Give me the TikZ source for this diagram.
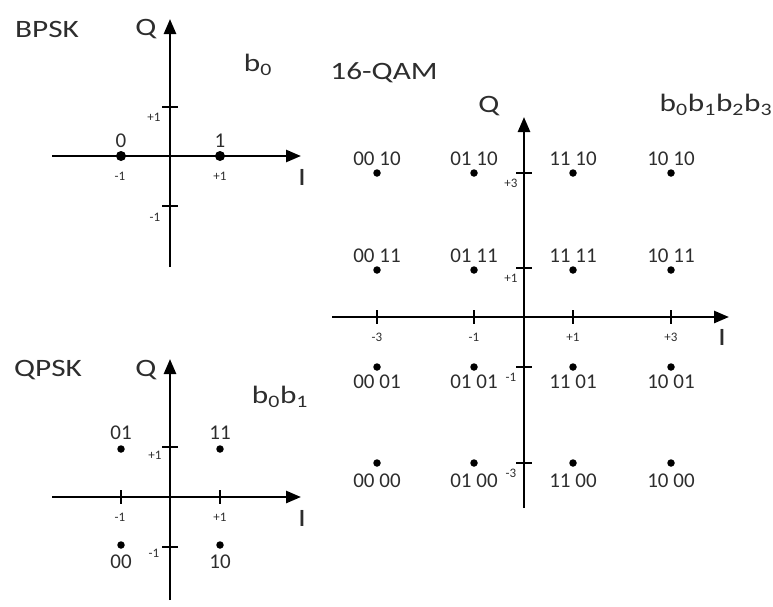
\documentclass[tikz,border=0pt]{standalone}
\usepackage{fontspec}
\setmainfont{Carlito}
\usepackage{tikz}
\usetikzlibrary{arrows.meta,positioning}
\definecolor{txtgray}{RGB}{45,45,45}
\newcommand{\wtxt}[1]{\scalebox{1.25}[1]{#1}}

\begin{document}
\begin{tikzpicture}[x=1pt, y=-1pt,
  axis/.style={line width=2.6pt, -{Triangle[length=15pt,width=12pt]}},
  tickmark/.style={line width=1.3pt},
  sympoint/.style={circle, fill=black, inner sep=0pt, minimum size=#1},
  sympoint/.default=7.5pt,
  ttl/.style={font=\fontsize{25}{29}\selectfont, text=txtgray, inner sep=0pt},
  bits/.style={font=\fontsize{21}{24}\selectfont, text=txtgray, inner sep=0pt},
  num/.style={font=\fontsize{13}{14}\selectfont, text=txtgray, inner sep=0pt}
]
\useasboundingbox (0,0) rectangle (773,606);

% BPSK
\node[ttl] (bpsk) at (47,29) {\wtxt{BPSK}};
\coordinate (bW) at (52,156);
\coordinate (bE) at (301,156);
\coordinate (bS) at (170,267);
\coordinate (bN) at (170,19);
\draw[axis] (bW) -- (bE);
\draw[axis] (bS) -- (bN);
\node[ttl] (bQ) at (146,29) {\wtxt{Q}};
\node[ttl] (bI) at (302,177) {\wtxt{I}};
\node[ttl] (bbits) at (258,65) {\wtxt{b\textsubscript{0}}};
\draw[tickmark] (162,107) -- (178,107);
\draw[tickmark] (162,206) -- (178,206);
\node[num] (bq1) at (154,117) {+1};
\node[num] (bqm1) at (155,217) {-1};
\node[sympoint=10pt] (b0) at (121,156) {};
\node[sympoint=10pt] (b1) at (220,156) {};
\node[bits] (lb0) at (121,141) {0};
\node[bits] (lb1) at (220,141) {1};
\node[num] (bim1) at (120,176) {-1};
\node[num] (bi1) at (220,176) {+1};

% QPSK
\node[ttl] (qpsk) at (48,370) {\wtxt{QPSK}};
\coordinate (pW) at (52,497);
\coordinate (pE) at (301,497);
\coordinate (pS) at (170,600);
\coordinate (pN) at (170,359);
\draw[axis] (pW) -- (pE);
\draw[axis] (pS) -- (pN);
\node[ttl] (pQ) at (146,370) {\wtxt{Q}};
\node[ttl] (pI) at (302,518) {\wtxt{I}};
\node[ttl] (pbits) at (280,397) {\wtxt{b\textsubscript{0}b\textsubscript{1}}};
\draw[tickmark] (162,447) -- (178,447);
\draw[tickmark] (162,547) -- (178,547);
\draw[tickmark] (121,490) -- (121,504);
\draw[tickmark] (220,490) -- (220,504);
\node[num] (pq1) at (155,455) {+1};
\node[num] (pqm1) at (154,553) {-1};
\node[num] (pim1) at (120,517) {-1};
\node[num] (pi1) at (220,517) {+1};
\foreach \nm/\xx/\yy/\ly in {01/121/449/433, 11/220/449/433, 00/121/545/562, 10/220/545/562}{
  \node[sympoint] (p\nm) at (\xx,\yy) {};
  \node[bits] (lp\nm) at (\xx,\ly) {\nm};
}

% 16-QAM
\node[ttl] (qam) at (384,73) {\wtxt{16-QAM}};
\coordinate (mW) at (332,317);
\coordinate (mE) at (729,317);
\coordinate (mS) at (524,508);
\coordinate (mN) at (524,117);
\draw[axis] (mW) -- (mE);
\draw[axis] (mS) -- (mN);
\node[ttl] (mQ) at (489,106) {\wtxt{Q}};
\node[ttl] (mI) at (722,337) {\wtxt{I}};
\node[ttl] (mbits) at (716,105) {\wtxt{b\textsubscript{0}b\textsubscript{1}b\textsubscript{2}b\textsubscript{3}}};
\foreach \xx/\lab in {377/-3, 474/-1, 573/+1, 671/+3}{
  \draw[tickmark] (\xx,310) -- (\xx,324);
  \node[num] at (\xx,337) {\lab};
}
\foreach \yy/\lab in {173/+3, 268/+1, 367/-1, 463/-3}{
  \draw[tickmark] (516,\yy) -- (532,\yy);
  \node[num] at (511,\yy+10) {\lab};
}
\foreach \xb/\xx in {00/377, 01/474, 11/573, 10/671}{
  \foreach \yb/\yy/\ly in {10/173/159, 11/270/256, 01/367/382, 00/463/481}{
    \node[sympoint] (m\xb\yb) at (\xx,\yy) {};
    \node[bits] (lm\xb\yb) at (\xx,\ly) {\xb\ \yb};
  }
}
\end{tikzpicture}
\end{document}
